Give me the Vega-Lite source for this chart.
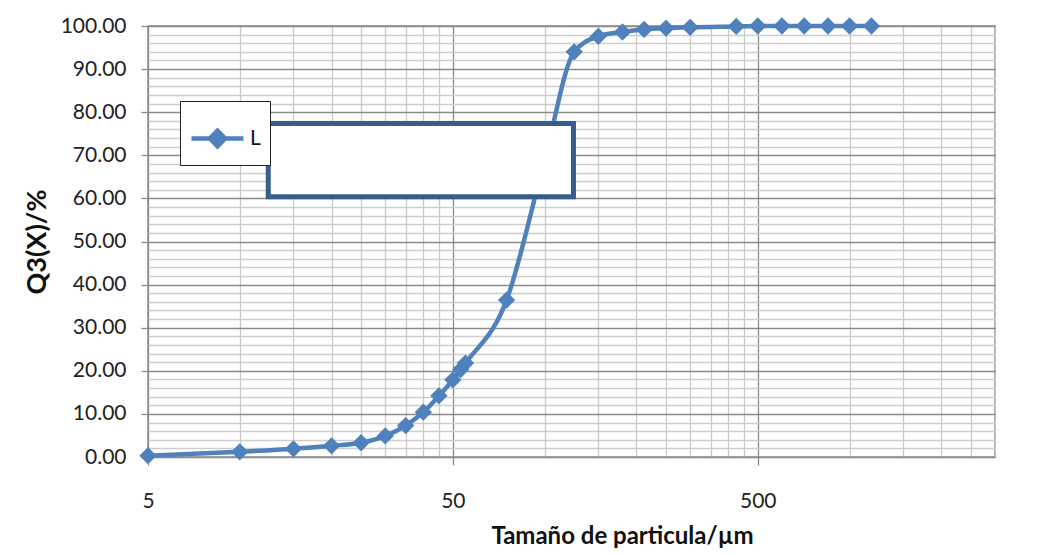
{
  "$schema": "https://vega.github.io/schema/vega-lite/v6.json",
  "width": 847,
  "height": 431,
  "autosize": {"type": "none"},
  "padding": {"left": 148, "top": 26, "right": 62, "bottom": 99},
  "background": "white",
  "config": {
    "view": {"stroke": "#8c8c8c", "strokeWidth": 1.5},
    "font": "Lato"
  },
  "datasets": {
    "curve": [
      {"size": 5, "q3": 0.3, "serie": "L"},
      {"size": 10, "q3": 1.2, "serie": "L"},
      {"size": 15, "q3": 1.9, "serie": "L"},
      {"size": 20, "q3": 2.6, "serie": "L"},
      {"size": 25, "q3": 3.3, "serie": "L"},
      {"size": 30, "q3": 4.9, "serie": "L"},
      {"size": 35, "q3": 7.3, "serie": "L"},
      {"size": 40, "q3": 10.4, "serie": "L"},
      {"size": 45, "q3": 14.2, "serie": "L"},
      {"size": 50, "q3": 17.9, "serie": "L"},
      {"size": 53, "q3": 20.3, "serie": "L"},
      {"size": 55, "q3": 21.8, "serie": "L"},
      {"size": 75, "q3": 36.4, "serie": "L"},
      {"size": 100, "q3": 69.0, "serie": "L"},
      {"size": 125, "q3": 94.0, "serie": "L"},
      {"size": 150, "q3": 97.6, "serie": "L"},
      {"size": 180, "q3": 98.6, "serie": "L"},
      {"size": 212, "q3": 99.2, "serie": "L"},
      {"size": 250, "q3": 99.5, "serie": "L"},
      {"size": 300, "q3": 99.7, "serie": "L"},
      {"size": 425, "q3": 99.9, "serie": "L"},
      {"size": 500, "q3": 100.0, "serie": "L"},
      {"size": 600, "q3": 100.0, "serie": "L"},
      {"size": 710, "q3": 100.0, "serie": "L"},
      {"size": 850, "q3": 100.0, "serie": "L"},
      {"size": 1000, "q3": 100.0, "serie": "L"},
      {"size": 1180, "q3": 100.0, "serie": "L"}
    ],
    "box": [
      {"x_from": 12.4, "x_to": 124.3, "y_from": 60.4, "y_to": 77.4}
    ]
  },
  "data": {"name": "curve"},
  "encoding": {
    "x": {
      "field": "size",
      "type": "quantitative",
      "title": "Tamaño de particula/µm",
      "scale": {"type": "log", "domain": [5, 3000], "nice": false},
      "axis": {
        "values": [5, 10, 15, 20, 25, 30, 35, 40, 45, 50, 100, 150, 200, 250, 300, 350, 400, 450, 500, 1000, 1500, 2000, 2500, 3000],
        "labelExpr": "(datum.value === 5 || datum.value === 50 || datum.value === 500) ? ('' + datum.value) : ''",
        "grid": true,
        "gridColor": {"condition": {"test": "datum.value === 5 || datum.value === 50 || datum.value === 500", "value": "#8a8a8a"}, "value": "#c8c8c8"},
        "gridWidth": 1.3,
        "tickColor": {"condition": {"test": "datum.value === 5 || datum.value === 50 || datum.value === 500", "value": "#8a8a8a"}, "value": "transparent"},
        "tickSize": 8,
        "tickWidth": 1.3,
        "domain": false,
        "labelFont": "Lato",
        "labelFontSize": 21,
        "labelColor": "#222222",
        "labelPadding": 25,
        "labelFlush": false,
        "labelOverlap": false,
        "labelBound": false,
        "titleFont": "Lato",
        "titleFontSize": 24,
        "titleFontWeight": "bold",
        "titleColor": "#111111",
        "titlePadding": 13,
        "titleX": 474
      }
    },
    "y": {
      "field": "q3",
      "type": "quantitative",
      "title": "Q3(X)/%",
      "scale": {"domain": [0, 100], "nice": false},
      "axis": {
        "values": [0, 2, 4, 6, 8, 10, 12, 14, 16, 18, 20, 22, 24, 26, 28, 30, 32, 34, 36, 38, 40, 42, 44, 46, 48, 50, 52, 54, 56, 58, 60, 62, 64, 66, 68, 70, 72, 74, 76, 78, 80, 82, 84, 86, 88, 90, 92, 94, 96, 98, 100],
        "labelExpr": "datum.value % 10 === 0 ? format(datum.value, '.2f') : ''",
        "grid": true,
        "gridColor": {"condition": {"test": "datum.value % 10 === 0", "value": "#8a8a8a"}, "value": "#cdcdcd"},
        "gridWidth": 1.3,
        "tickColor": {"condition": {"test": "datum.value % 10 === 0", "value": "#8a8a8a"}, "value": "transparent"},
        "tickSize": 7,
        "tickWidth": 1.3,
        "domain": false,
        "labelFont": "Lato",
        "labelFontSize": 21,
        "labelColor": "#222222",
        "labelPadding": 15,
        "labelOverlap": false,
        "labelBound": false,
        "labelFlush": false,
        "titleFont": "Lato",
        "titleFontSize": 27,
        "titleFontWeight": "bold",
        "titleColor": "#111111",
        "titlePadding": 9
      }
    },
    "color": {
      "field": "serie",
      "type": "nominal",
      "scale": {"range": ["#4f81bd"]},
      "legend": {
        "orient": "none",
        "legendX": 32,
        "legendY": 75,
        "title": null,
        "symbolType": "M-1,0L-0.3,0L0,-0.3L0.3,0L1,0L0.3,0L0,0.3L-0.3,0Z",
        "symbolSize": 2704,
        "symbolStrokeWidth": 4.5,
        "symbolStrokeColor": "#4f81bd",
        "symbolFillColor": "#4f81bd",
        "labelOffset": 4,
        "labelFont": "Lato",
        "labelFontSize": 21,
        "labelColor": "#111111",
        "strokeColor": "#222222",
        "fillColor": "white",
        "padding": 9,
        "cornerRadius": 0
      }
    }
  },
  "layer": [
    {
      "mark": {"type": "line", "interpolate": "monotone", "strokeWidth": 4.5}
    },
    {
      "mark": {"type": "point", "shape": "diamond", "filled": true, "size": 300, "opacity": 1}
    },
    {
      "data": {"name": "box"},
      "mark": {"type": "rect", "fill": "white", "stroke": "#385d8a", "strokeWidth": 5, "opacity": 1},
      "encoding": {
        "x": {
          "field": "x_from",
          "type": "quantitative",
          "title": "Tamaño de particula/µm",
          "scale": {"type": "log", "domain": [5, 3000], "nice": false},
          "axis": {
            "values": [5, 10, 15, 20, 25, 30, 35, 40, 45, 50, 100, 150, 200, 250, 300, 350, 400, 450, 500, 1000, 1500, 2000, 2500, 3000],
            "labelExpr": "(datum.value === 5 || datum.value === 50 || datum.value === 500) ? ('' + datum.value) : ''",
            "grid": true,
            "gridColor": {"condition": {"test": "datum.value === 5 || datum.value === 50 || datum.value === 500", "value": "#8a8a8a"}, "value": "#c8c8c8"},
            "gridWidth": 1.3,
            "tickColor": {"condition": {"test": "datum.value === 5 || datum.value === 50 || datum.value === 500", "value": "#8a8a8a"}, "value": "transparent"},
            "tickSize": 8,
            "tickWidth": 1.3,
            "domain": false,
            "labelFont": "Lato",
            "labelFontSize": 21,
            "labelColor": "#222222",
            "labelPadding": 25,
            "labelFlush": false,
            "labelOverlap": false,
            "labelBound": false,
            "titleFont": "Lato",
            "titleFontSize": 24,
            "titleFontWeight": "bold",
            "titleColor": "#111111",
            "titlePadding": 13,
            "titleX": 474
          }
        },
        "x2": {"field": "x_to"},
        "y": {
          "field": "y_to",
          "type": "quantitative",
          "title": "Q3(X)/%",
          "scale": {"domain": [0, 100], "nice": false},
          "axis": {
            "values": [0, 2, 4, 6, 8, 10, 12, 14, 16, 18, 20, 22, 24, 26, 28, 30, 32, 34, 36, 38, 40, 42, 44, 46, 48, 50, 52, 54, 56, 58, 60, 62, 64, 66, 68, 70, 72, 74, 76, 78, 80, 82, 84, 86, 88, 90, 92, 94, 96, 98, 100],
            "labelExpr": "datum.value % 10 === 0 ? format(datum.value, '.2f') : ''",
            "grid": true,
            "gridColor": {"condition": {"test": "datum.value % 10 === 0", "value": "#8a8a8a"}, "value": "#cdcdcd"},
            "gridWidth": 1.3,
            "tickColor": {"condition": {"test": "datum.value % 10 === 0", "value": "#8a8a8a"}, "value": "transparent"},
            "tickSize": 7,
            "tickWidth": 1.3,
            "domain": false,
            "labelFont": "Lato",
            "labelFontSize": 21,
            "labelColor": "#222222",
            "labelPadding": 15,
            "labelOverlap": false,
            "labelBound": false,
            "labelFlush": false,
            "titleFont": "Lato",
            "titleFontSize": 27,
            "titleFontWeight": "bold",
            "titleColor": "#111111",
            "titlePadding": 9
          }
        },
        "y2": {"field": "y_from"},
        "color": null
      }
    }
  ]
}
